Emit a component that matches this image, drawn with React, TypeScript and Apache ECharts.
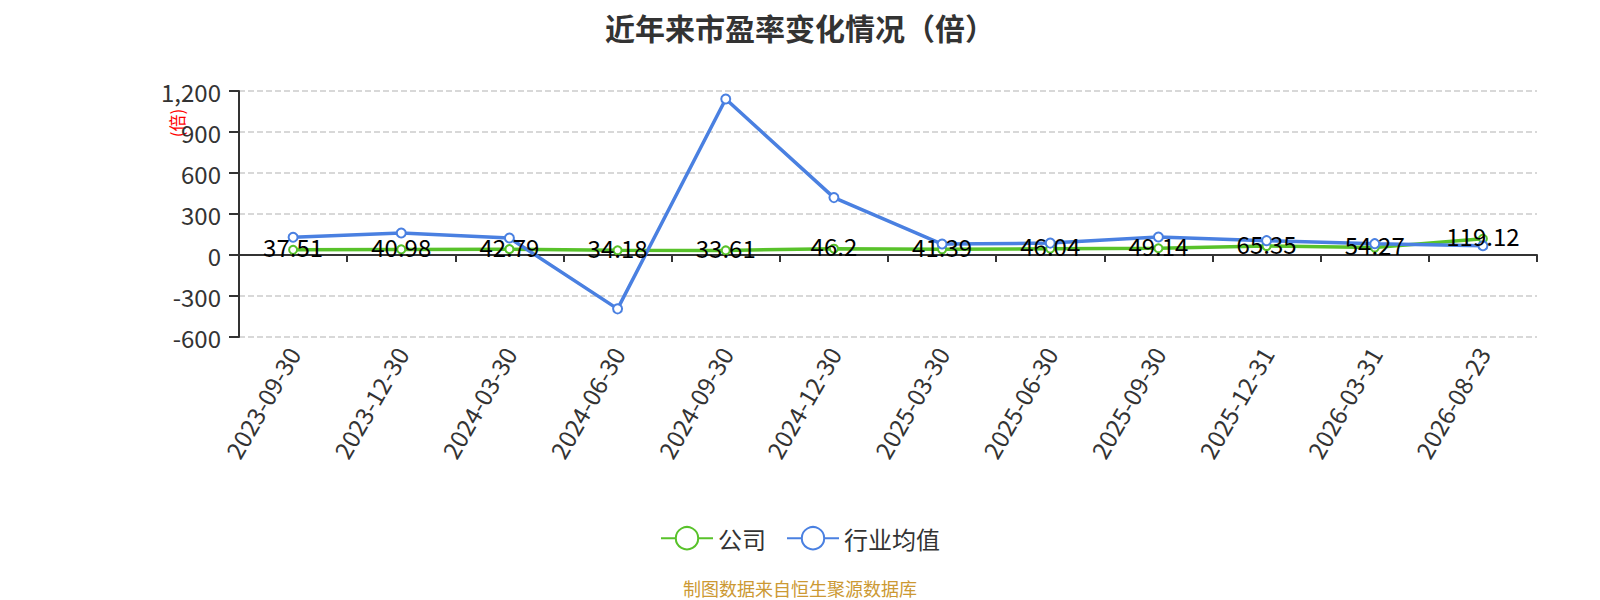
import React, { useEffect, useRef } from 'react';
import * as echarts from 'echarts';

const dates = [
  '2023-09-30', '2023-12-30', '2024-03-30', '2024-06-30', '2024-09-30', '2024-12-30',
  '2025-03-30', '2025-06-30', '2025-09-30', '2025-12-31', '2026-03-31', '2026-08-23',
];
const companyPE = [37.51, 40.98, 42.79, 34.18, 33.61, 46.2, 41.39, 46.04, 49.14, 65.35, 54.27, 119.12];
const industryPE = [130, 161, 124, -394, 1141, 420, 80, 87, 132, 105, 83, 68];
const seriesNames = ['公司', '行业均值'];

const FONT = '"Microsoft YaHei", "Noto Sans CJK SC", sans-serif';
const GREEN = '#58C22A';
const BLUE = '#4A80E1';

const App: React.FC = () => {
  const chartRef = useRef<HTMLDivElement>(null);

  useEffect(() => {
    if (!chartRef.current) return;
    const chart = echarts.init(chartRef.current, undefined, { renderer: 'svg' });

    const option = {
      animation: false,
      textStyle: { fontFamily: FONT },
      title: {
        text: '近年来市盈率变化情况（倍）',
        left: 'center',
        top: 7,
        textStyle: { fontSize: 30, fontWeight: 'bold', color: '#333', fontFamily: FONT },
      },
      legend: {
        data: seriesNames,
        left: 'center',
        top: 521,
        itemWidth: 52,
        itemHeight: 28,
        itemGap: 20,
        textStyle: { fontSize: 24, color: '#333', fontFamily: FONT },
      },
      grid: { left: 239, right: 63, top: 91, bottom: 263 },
      xAxis: [
        {
          type: 'category',
          data: dates,
          position: 'bottom',
          axisLine: { show: false, onZero: false },
          axisTick: { show: false },
          axisLabel: { rotate: 60, fontSize: 24, color: '#333', margin: 12, interval: 0 },
          splitLine: { show: false },
        },
        {
          type: 'category',
          data: dates,
          position: 'top',
          axisLine: { show: true, onZero: true, lineStyle: { color: '#333', width: 2 } },
          axisTick: { show: true, inside: true, length: 7, lineStyle: { color: '#333', width: 2 } },
          axisLabel: { show: false },
          splitLine: { show: false },
        },
      ],
      yAxis: {
        type: 'value',
        min: -600,
        max: 1200,
        interval: 300,
        axisLine: { show: true, lineStyle: { color: '#333', width: 2 } },
        axisTick: { show: true, length: 10, lineStyle: { color: '#333', width: 2 } },
        axisLabel: { fontSize: 24, color: '#333', margin: 18 },
        splitLine: { show: true, lineStyle: { color: '#ccc', type: 'dashed', width: 1.5 } },
      },
      graphic: [
        {
          type: 'text',
          x: 176,
          y: 123,
          rotation: Math.PI / 2,
          style: {
            text: '(倍)',
            fill: '#f00',
            fontSize: 17,
            fontFamily: FONT,
            align: 'center',
            verticalAlign: 'middle',
          },
        },
        {
          type: 'text',
          x: 800,
          y: 588,
          style: {
            text: '制图数据来自恒生聚源数据库',
            fill: '#CC9933',
            fontSize: 18,
            fontFamily: FONT,
            align: 'center',
            verticalAlign: 'middle',
          },
        },
      ],
      series: [
        {
          name: seriesNames[0],
          type: 'line',
          xAxisIndex: 0,
          data: companyPE,
          color: GREEN,
          symbol: 'emptyCircle',
          symbolSize: 8,
          lineStyle: { width: 3.5, color: GREEN },
          itemStyle: { color: GREEN, borderWidth: 2 },
          label: {
            show: true,
            position: 'inside',
            offset: [0, -3],
            fontSize: 24,
            color: '#000',
            fontFamily: FONT,
          },
        },
        {
          name: seriesNames[1],
          type: 'line',
          xAxisIndex: 0,
          data: industryPE,
          color: BLUE,
          symbol: 'emptyCircle',
          symbolSize: 9,
          lineStyle: { width: 3.5, color: BLUE },
          itemStyle: { color: BLUE, borderWidth: 2 },
          label: { show: false },
        },
      ],
    } as any;

    chart.setOption(option);

    return () => {
      chart.dispose();
    };
  }, []);

  return (
    <div
      ref={chartRef}
      style={{ position: 'fixed', left: 0, top: 0, width: 1600, height: 600, background: '#fff' }}
    />
  );
};

export default App;
